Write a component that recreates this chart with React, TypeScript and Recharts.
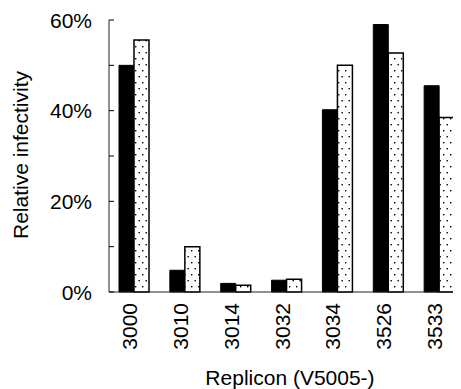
import React from 'react';
import { BarChart, Bar, XAxis, YAxis } from 'recharts';

const categories = ['3000', '3010', '3014', '3032', '3034', '3526', '3533'];
const seriesBlack = [50, 4.8, 1.9, 2.6, 40.2, 59, 45.5];
const seriesDotted = [55.6, 10, 1.5, 2.8, 50, 52.7, 38.5];
const yTicks = [0, 10, 20, 30, 40, 50, 60];
const yLabelTicks = [0, 20, 40, 60];

const data = categories.map((c, i) => ({ name: c, a: seriesBlack[i], b: seriesDotted[i] }));

const FONT = '"Liberation Sans", Arial, sans-serif';
const FS = 21;

const YTick = (props: any) => {
  const { x, y, payload } = props;
  const v = payload.value;
  const labeled = yLabelTicks.includes(v);
  return (
    <g>
      <line x1={x} x2={x + 5} y1={y} y2={y} stroke="#000" strokeWidth={1} />
      {labeled && (
        <text x={x - 17} y={y} dy={7.5} textAnchor="end" fontFamily={FONT} fontSize={FS} fill="#000">
          {v + '%'}
        </text>
      )}
    </g>
  );
};

const XTick = (props: any) => {
  const { x, y, payload } = props;
  return (
    <g transform={`translate(${x - 5},${y}) rotate(-90)`}>
      <text x={-11} y={7.5} textAnchor="end" fontFamily={FONT} fontSize={FS} fill="#000">
        {payload.value}
      </text>
    </g>
  );
};

export default function App() {
  return (
    <div style={{ width: 453, height: 381, position: 'relative' }}>
      <BarChart
        width={453}
        height={381}
        data={data}
        margin={{ top: 12, right: -4, bottom: 0, left: 0 }}
        barCategoryGap={10}
        barGap={0}
      >
        <defs>
          <pattern id="dots" x="0" y="0" width="7" height="12" patternUnits="userSpaceOnUse">
            <rect x="0" y="0" width="7" height="12" fill="#fff" />
            <rect x="1" y="2" width="1.4" height="1.4" fill="#000" />
            <rect x="4.5" y="8" width="1.4" height="1.4" fill="#000" />
          </pattern>
        </defs>
        <XAxis
          dataKey="name"
          height={97}
          tickLine={false}
          tickSize={0}
          tickMargin={0}
          axisLine={{ stroke: '#222', strokeWidth: 1 }}
          tick={<XTick />}
          interval={0}
          label={{
            content: () => (
              <text x={282} y={377} textAnchor="middle" fontFamily={FONT} fontSize={FS} fill="#000">
                Replicon (V5005-)
              </text>
            ),
          }}
        />
        <YAxis
          width={101}
          domain={[0, 60]}
          ticks={yTicks}
          interval={0}
          tickLine={false}
          tickSize={0}
          tickMargin={0}
          axisLine={{ stroke: '#222', strokeWidth: 1 }}
          tick={<YTick />}
          label={{
            content: () => (
              <text
                x={12}
                y={147}
                transform="rotate(-90 12 147)"
                textAnchor="middle"
                dominantBaseline="central"
                fontFamily={FONT}
                fontSize={FS}
                fill="#000"
              >
                Relative infectivity
              </text>
            ),
          }}
        />
        <Bar dataKey="a" fill="#000" stroke="#000" strokeWidth={1} isAnimationActive={false} />
        <Bar dataKey="b" fill="url(#dots)" stroke="#000" strokeWidth={1.5} isAnimationActive={false} />
      </BarChart>
    </div>
  );
}
